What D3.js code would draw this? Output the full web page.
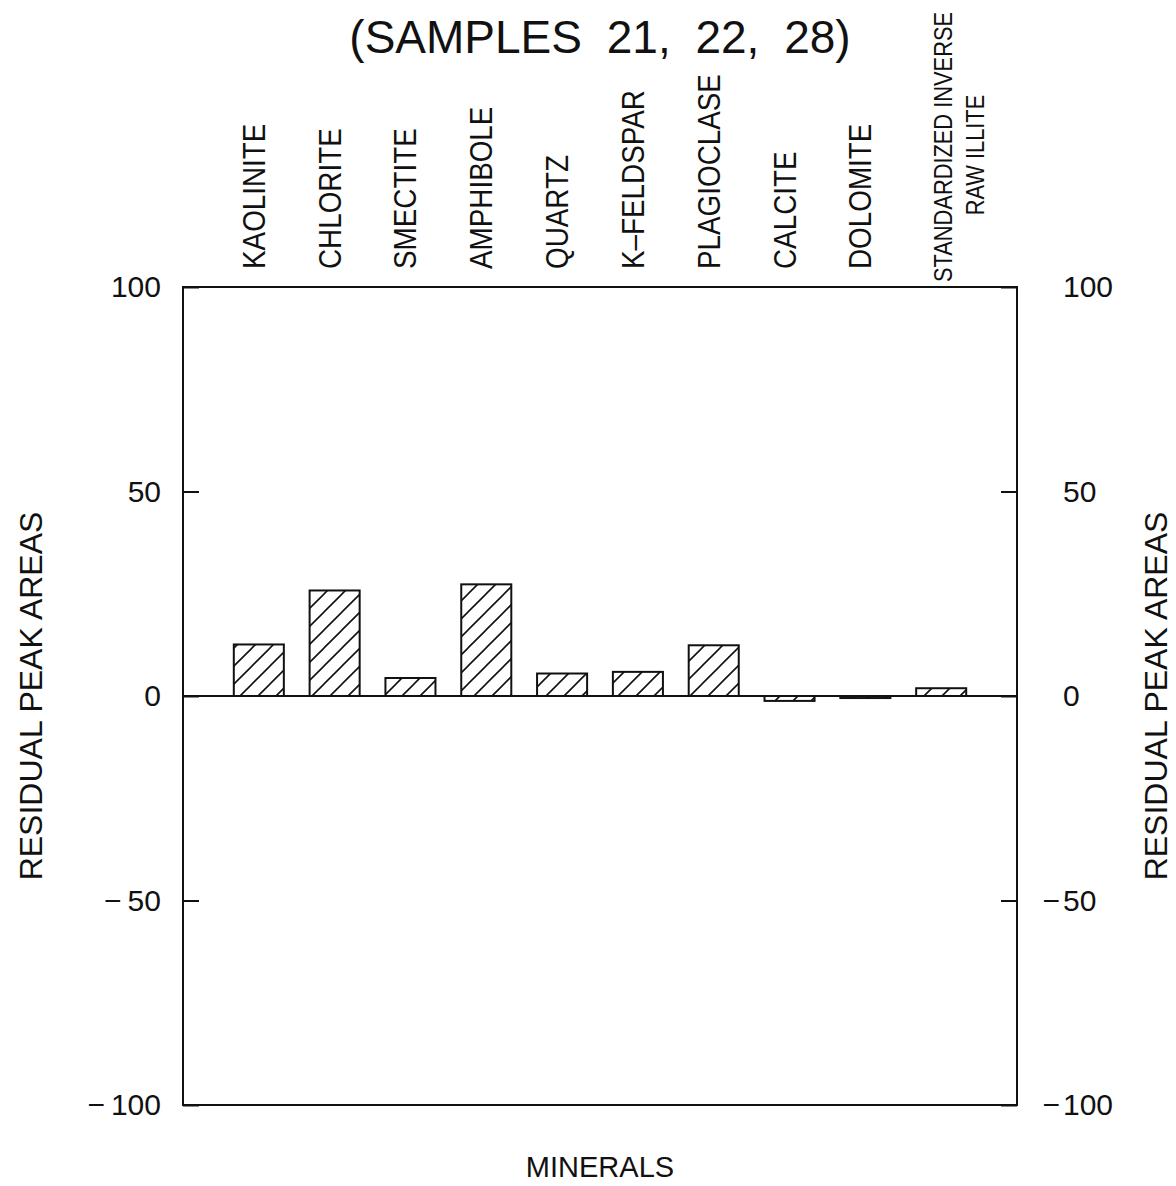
<!DOCTYPE html>
<html>
<head>
<meta charset="utf-8">
<script src="https://cdn.jsdelivr.net/npm/d3@7"></script>
<style>
  html, body { margin: 0; padding: 0; background: #fff; }
  svg { display: block; }
  text { font-family: "Liberation Sans", Arial, sans-serif; fill: #111; }
</style>
</head>
<body>
<svg id="chart" width="1176" height="1186"></svg>
<script>
// Residual peak areas per mineral
const minerals = [
  "KAOLINITE", "CHLORITE", "SMECTITE", "AMPHIBOLE", "QUARTZ",
  "K\u2013FELDSPAR", "PLAGIOCLASE", "CALCITE", "DOLOMITE",
  "STANDARDIZED INVERSE\nRAW ILLITE"
];
const residuals = [12.6, 25.8, 4.4, 27.3, 5.5, 5.9, 12.4, -1.2, -0.5, 1.9];
const yTicks = [-100, -50, 0, 50, 100];
const yDomain = [-100, 100];
const titleText = "(SAMPLES 21, 22, 28)";
const xTitle = "MINERALS";
const yTitle = "RESIDUAL PEAK AREAS";

const svg = d3.select("#chart");
const plotL = 183, plotR = 1017, plotT = 287, plotB = 1105;

const x = d3.scaleLinear().domain([0, minerals.length + 1]).range([plotL, plotR]);
const y = d3.scaleLinear().domain(yDomain).range([plotB, plotT]);
const barW = (x(1) - x(0)) * 0.66;

// diagonal hatch fill
const defs = svg.append("defs");
defs.append("pattern")
  .attr("id", "hatch")
  .attr("patternUnits", "userSpaceOnUse")
  .attr("width", 18).attr("height", 18)
  .append("path")
  .attr("d", "M-4.5,4.5 L4.5,-4.5 M0,18 L18,0 M13.5,22.5 L22.5,13.5")
  .attr("stroke", "#111").attr("stroke-width", 1.6);

// frame
svg.append("rect")
  .attr("x", plotL).attr("y", plotT)
  .attr("width", plotR - plotL).attr("height", plotB - plotT)
  .attr("fill", "none").attr("stroke", "#111").attr("stroke-width", 2);

// bars
svg.append("g").selectAll("rect")
  .data(residuals)
  .join("rect")
  .attr("x", (d, i) => x(i + 1) - barW / 2)
  .attr("y", d => y(Math.max(0, d)))
  .attr("width", barW)
  .attr("height", d => Math.abs(y(d) - y(0)))
  .attr("fill", "url(#hatch)")
  .attr("stroke", "#111").attr("stroke-width", 2);

// zero line
svg.append("line")
  .attr("x1", plotL).attr("x2", plotR)
  .attr("y1", y(0)).attr("y2", y(0))
  .attr("stroke", "#111").attr("stroke-width", 2);

// axes with inward ticks
const fmt = d => d < 0 ? "\u2212\u2009" + Math.abs(d) : String(d);
const gl = svg.append("g")
  .attr("transform", `translate(${plotL},0)`)
  .call(d3.axisLeft(y).tickValues(yTicks).tickSize(-16).tickPadding(22).tickFormat(fmt));
const gr = svg.append("g")
  .attr("transform", `translate(${plotR},0)`)
  .call(d3.axisRight(y).tickValues(yTicks).tickSize(-16).tickPadding(46).tickFormat(d => String(Math.abs(d))));
[gl, gr].forEach(g => {
  g.select(".domain").remove();
  g.selectAll(".tick line").attr("stroke", "#111").attr("stroke-width", 2);
  g.selectAll(".tick text").attr("font-size", 30).attr("fill", "#111")
    .attr("font-family", "Liberation Sans, Arial, sans-serif");
});
// minus signs hang to the left of the right-hand digits
gr.selectAll(".tick").filter(d => d < 0)
  .append("text")
  .attr("x", 43).attr("dy", "0.32em")
  .attr("text-anchor", "end")
  .attr("font-size", 30).attr("fill", "#111")
  .attr("font-family", "Liberation Sans, Arial, sans-serif")
  .text("\u2212");

// category labels above the frame
const lab = svg.append("g");
minerals.forEach((name, i) => {
  const cx = x(i + 1);
  const lines = name.split("\n");
  if (lines.length === 1) {
    lab.append("text")
      .attr("transform", `translate(${cx + 6},269) rotate(-90) scale(0.87,1)`)
      .attr("text-anchor", "start")
      .attr("font-size", 32)
      .text(name);
  } else {
    lines.forEach((ln, k) => {
      lab.append("text")
        .attr("transform", `translate(${cx + 11 + k * 32},${147 + k * 8}) rotate(-90) scale(0.84,1)`)
        .attr("text-anchor", "middle")
        .attr("font-size", 26)
        .text(ln);
    });
  }
});

// titles
svg.append("text")
  .attr("x", (plotL + plotR) / 2).attr("y", 53)
  .attr("text-anchor", "middle")
  .attr("font-size", 46)
  .attr("word-spacing", 12)
  .text(titleText);

svg.append("text")
  .attr("x", (plotL + plotR) / 2).attr("y", 1177)
  .attr("text-anchor", "middle")
  .attr("font-size", 29)
  .text(xTitle);

[42, 1167].forEach(bx => {
  svg.append("text")
    .attr("transform", `translate(${bx},${(plotT + plotB) / 2}) rotate(-90)`)
    .attr("text-anchor", "middle")
    .attr("font-size", 32)
    .text(yTitle);
});
</script>
</body>
</html>
